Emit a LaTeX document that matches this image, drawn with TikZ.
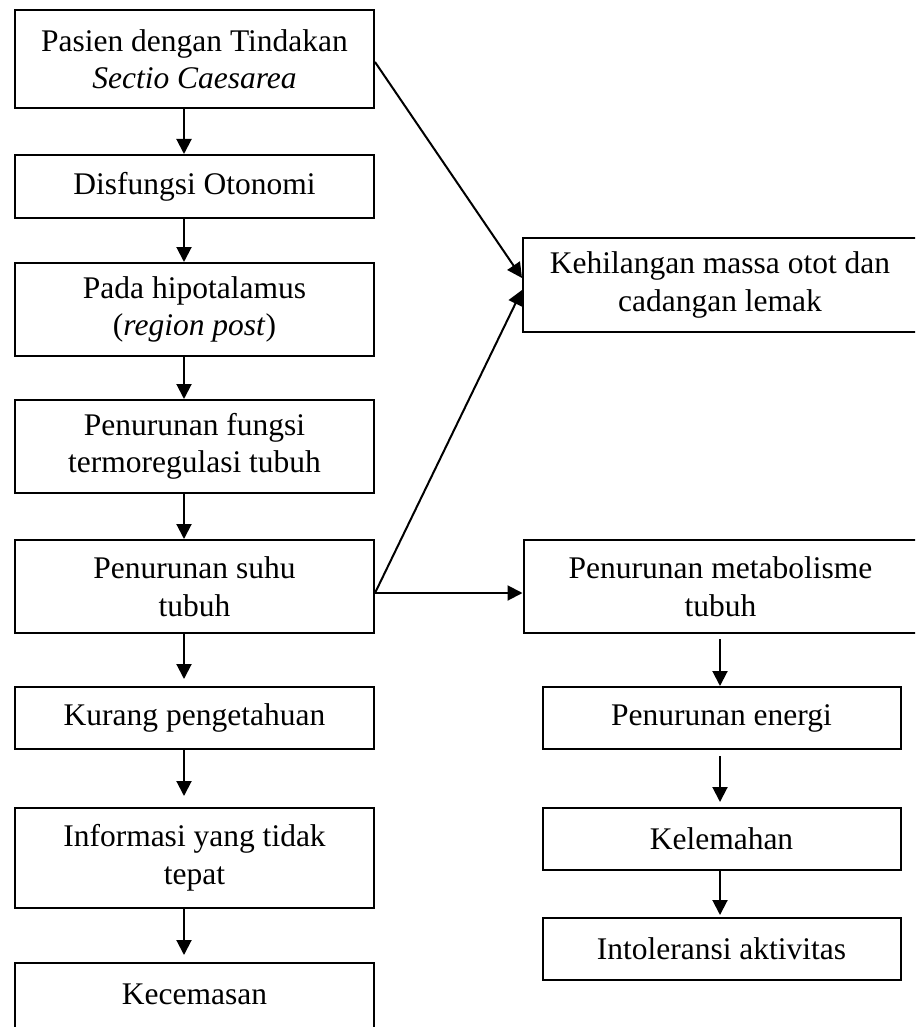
\documentclass[tikz,border=0pt]{standalone}
\usepackage{fontspec}
\setmainfont{Liberation Serif}
\usetikzlibrary{arrows.meta}
\begin{document}
\begin{tikzpicture}[x=1pt,y=-1pt,
  box/.style={draw, line width=2pt, align=center, inner sep=0pt,
    font=\fontsize{31.5}{37.5}\selectfont},
  lbox/.style={box, minimum width=359pt},
  rbox/.style={box, minimum width=394pt},
  sbox/.style={box, minimum width=358pt},
  arr/.style={line width=2pt, -{Triangle[length=15pt,width=15pt]}}]
\clip (0,0) rectangle (915,1027);
% left column
\node[lbox, minimum height=98pt] (b1) at (194.5,59) {Pasien dengan Tindakan\\\textit{Sectio Caesarea}};
\node[lbox, minimum height=63pt] (b2) at (194.5,186.5) {Disfungsi Otonomi};
\node[lbox, minimum height=93pt] (b3) at (194.5,309.5) {Pada hipotalamus\\(\textit{region post})};
\node[lbox, minimum height=93pt] (b4) at (194.5,446.5) {Penurunan fungsi\\termoregulasi tubuh};
\node[lbox, minimum height=93pt] (b5) at (194.5,586.5) {Penurunan suhu\\tubuh};
\node[lbox, minimum height=62pt] (b6) at (194.5,718) {Kurang pengetahuan};
\node[lbox, minimum height=100pt] (b7) at (194.5,858) {Informasi yang tidak\\tepat};
\node[lbox, anchor=north, text height=41pt, text depth=59pt] (b8) at (194.5,962) {Kecemasan};
% right column
\node[rbox, minimum height=94pt] (r1) at (720,285) {Kehilangan massa otot dan\\cadangan lemak};
\node[rbox, minimum height=93pt] (r2) at (720.5,586.5) {Penurunan metabolisme\\tubuh};
\node[sbox, minimum height=62pt] (r3) at (721.5,718) {Penurunan energi};
\node[sbox, minimum height=62pt] (r4) at (721.5,839) {Kelemahan};
\node[sbox, minimum height=62pt] (r5) at (721.5,949) {Intoleransi aktivitas};
% left arrows
\draw[arr] ([xshift=-10.5pt]b1.south) -- ([xshift=-10.5pt]b2.north);
\draw[arr] ([xshift=-10.5pt]b2.south) -- ([xshift=-10.5pt]b3.north);
\draw[arr] ([xshift=-10.5pt]b3.south) -- ([xshift=-10.5pt]b4.north);
\draw[arr] ([xshift=-10.5pt]b4.south) -- ([xshift=-10.5pt]b5.north);
\draw[arr, shorten >=7pt] ([xshift=-10.5pt]b5.south) -- ([xshift=-10.5pt]b6.north);
\draw[arr, shorten >=11pt] ([xshift=-10.5pt]b6.south) -- ([xshift=-10.5pt]b7.north);
\draw[arr, shorten >=7pt] ([xshift=-10.5pt]b7.south) -- ([xshift=-10.5pt]b8.north);
% cross arrows
\draw[arr] ([yshift=-3pt]b1.east) -- ([yshift=7pt]r1.west);
\draw[arr] ([yshift=-6.5pt]b5.east) -- ([yshift=-5pt]r1.west);
\draw[arr] ([yshift=-6.5pt]b5.east) -- ([yshift=-6.5pt]r2.west);
% right arrows
\draw[arr, shorten <=5pt] ([xshift=-0.5pt]r2.south) -- ([xshift=-1.5pt]r3.north);
\draw[arr, shorten <=6pt, shorten >=5pt] ([xshift=-1.5pt]r3.south) -- ([xshift=-1.5pt]r4.north);
\draw[arr, shorten >=2pt] ([xshift=-1.5pt]r4.south) -- ([xshift=-1.5pt]r5.north);
\end{tikzpicture}
\end{document}
